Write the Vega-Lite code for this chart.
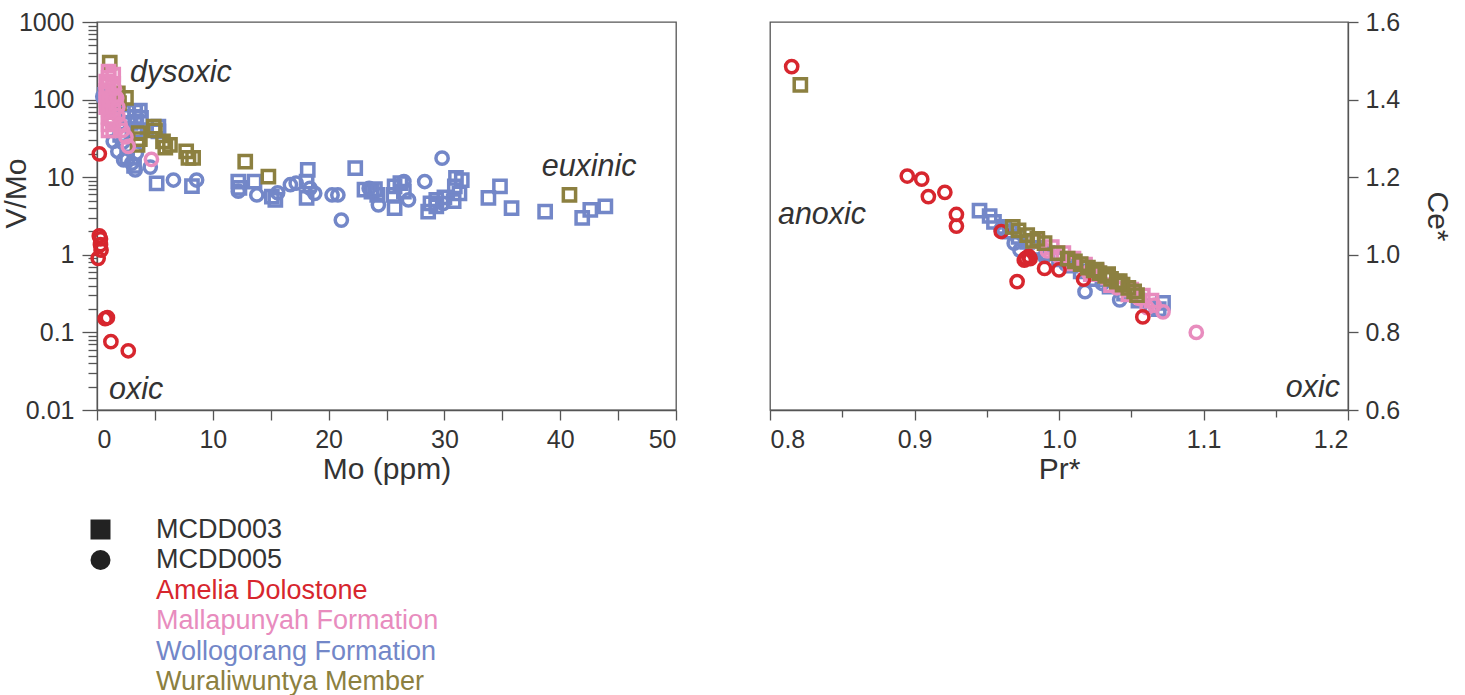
{
  "$schema": "https://vega.github.io/schema/vega-lite/v6.json",
  "autosize": {"type": "none"},
  "padding": {"left": 97, "top": 22, "right": 1368, "bottom": 673},
  "background": "white",
  "bounds": "flush",
  "spacing": 94,
  "config": {
    "font": "Liberation Sans",
    "view": {"stroke": "#555", "strokeWidth": 1.3},
    "axis": {
      "grid": false,
      "domainColor": "#555",
      "domainWidth": 1.3,
      "tickColor": "#555",
      "tickWidth": 1.3,
      "labelFont": "Liberation Sans",
      "labelFontSize": 25,
      "labelColor": "#333",
      "labelPadding": 7,
      "titleFont": "Liberation Sans",
      "titleFontSize": 30,
      "titleFontWeight": "normal",
      "titleColor": "#333"
    },
    "legend": {"labelFont": "Liberation Sans", "labelFontSize": 27, "labelColor": "#333", "labelLimit": 0}
  },
  "datasets": {
    "vmo": [
      {"mo": 0.7, "vmo": 115, "unit": "Wollogorang Formation", "core": "MCDD003"},
      {"mo": 1.0, "vmo": 95, "unit": "Wollogorang Formation", "core": "MCDD003"},
      {"mo": 1.3, "vmo": 81, "unit": "Wollogorang Formation", "core": "MCDD003"},
      {"mo": 2.7, "vmo": 70, "unit": "Wollogorang Formation", "core": "MCDD003"},
      {"mo": 3.3, "vmo": 70, "unit": "Wollogorang Formation", "core": "MCDD003"},
      {"mo": 3.7, "vmo": 72, "unit": "Wollogorang Formation", "core": "MCDD003"},
      {"mo": 2.7, "vmo": 60, "unit": "Wollogorang Formation", "core": "MCDD003"},
      {"mo": 3.3, "vmo": 60, "unit": "Wollogorang Formation", "core": "MCDD003"},
      {"mo": 3.8, "vmo": 58, "unit": "Wollogorang Formation", "core": "MCDD003"},
      {"mo": 2.9, "vmo": 50, "unit": "Wollogorang Formation", "core": "MCDD003"},
      {"mo": 3.4, "vmo": 52, "unit": "Wollogorang Formation", "core": "MCDD003"},
      {"mo": 3.3, "vmo": 40, "unit": "Wollogorang Formation", "core": "MCDD003"},
      {"mo": 5.3, "vmo": 45, "unit": "Wollogorang Formation", "core": "MCDD003"},
      {"mo": 5.3, "vmo": 39, "unit": "Wollogorang Formation", "core": "MCDD003"},
      {"mo": 2.0, "vmo": 35, "unit": "Wollogorang Formation", "core": "MCDD003"},
      {"mo": 2.6, "vmo": 18, "unit": "Wollogorang Formation", "core": "MCDD003"},
      {"mo": 3.2, "vmo": 14, "unit": "Wollogorang Formation", "core": "MCDD003"},
      {"mo": 5.15, "vmo": 8.3, "unit": "Wollogorang Formation", "core": "MCDD003"},
      {"mo": 8.2, "vmo": 7.7, "unit": "Wollogorang Formation", "core": "MCDD003"},
      {"mo": 12.2, "vmo": 8.8, "unit": "Wollogorang Formation", "core": "MCDD003"},
      {"mo": 12.3, "vmo": 7.3, "unit": "Wollogorang Formation", "core": "MCDD003"},
      {"mo": 13.6, "vmo": 8.8, "unit": "Wollogorang Formation", "core": "MCDD003"},
      {"mo": 15.1, "vmo": 5.6, "unit": "Wollogorang Formation", "core": "MCDD003"},
      {"mo": 15.4, "vmo": 5.1, "unit": "Wollogorang Formation", "core": "MCDD003"},
      {"mo": 18.2, "vmo": 12.4, "unit": "Wollogorang Formation", "core": "MCDD003"},
      {"mo": 18.1, "vmo": 8.8, "unit": "Wollogorang Formation", "core": "MCDD003"},
      {"mo": 18.1, "vmo": 5.4, "unit": "Wollogorang Formation", "core": "MCDD003"},
      {"mo": 22.3, "vmo": 13.1, "unit": "Wollogorang Formation", "core": "MCDD003"},
      {"mo": 23.1, "vmo": 6.9, "unit": "Wollogorang Formation", "core": "MCDD003"},
      {"mo": 23.7, "vmo": 6.5, "unit": "Wollogorang Formation", "core": "MCDD003"},
      {"mo": 24.2, "vmo": 5.9, "unit": "Wollogorang Formation", "core": "MCDD003"},
      {"mo": 24.0, "vmo": 7.0, "unit": "Wollogorang Formation", "core": "MCDD003"},
      {"mo": 25.7, "vmo": 7.6, "unit": "Wollogorang Formation", "core": "MCDD003"},
      {"mo": 26.2, "vmo": 8.4, "unit": "Wollogorang Formation", "core": "MCDD003"},
      {"mo": 25.6, "vmo": 5.9, "unit": "Wollogorang Formation", "core": "MCDD003"},
      {"mo": 25.7, "vmo": 4.0, "unit": "Wollogorang Formation", "core": "MCDD003"},
      {"mo": 26.5, "vmo": 6.5, "unit": "Wollogorang Formation", "core": "MCDD003"},
      {"mo": 28.8, "vmo": 4.6, "unit": "Wollogorang Formation", "core": "MCDD003"},
      {"mo": 29.3, "vmo": 5.1, "unit": "Wollogorang Formation", "core": "MCDD003"},
      {"mo": 28.6, "vmo": 3.6, "unit": "Wollogorang Formation", "core": "MCDD003"},
      {"mo": 29.3, "vmo": 4.2, "unit": "Wollogorang Formation", "core": "MCDD003"},
      {"mo": 30.0, "vmo": 5.5, "unit": "Wollogorang Formation", "core": "MCDD003"},
      {"mo": 31.5, "vmo": 9.2, "unit": "Wollogorang Formation", "core": "MCDD003"},
      {"mo": 31.0, "vmo": 9.8, "unit": "Wollogorang Formation", "core": "MCDD003"},
      {"mo": 31.3, "vmo": 6.2, "unit": "Wollogorang Formation", "core": "MCDD003"},
      {"mo": 30.9, "vmo": 7.6, "unit": "Wollogorang Formation", "core": "MCDD003"},
      {"mo": 30.8, "vmo": 4.9, "unit": "Wollogorang Formation", "core": "MCDD003"},
      {"mo": 34.8, "vmo": 7.6, "unit": "Wollogorang Formation", "core": "MCDD003"},
      {"mo": 33.8, "vmo": 5.4, "unit": "Wollogorang Formation", "core": "MCDD003"},
      {"mo": 35.8, "vmo": 4.0, "unit": "Wollogorang Formation", "core": "MCDD003"},
      {"mo": 38.7, "vmo": 3.6, "unit": "Wollogorang Formation", "core": "MCDD003"},
      {"mo": 41.9, "vmo": 3.0, "unit": "Wollogorang Formation", "core": "MCDD003"},
      {"mo": 42.6, "vmo": 3.8, "unit": "Wollogorang Formation", "core": "MCDD003"},
      {"mo": 43.9, "vmo": 4.2, "unit": "Wollogorang Formation", "core": "MCDD003"},
      {"mo": 0.5, "vmo": 110, "unit": "Wollogorang Formation", "core": "MCDD005"},
      {"mo": 1.0, "vmo": 75, "unit": "Wollogorang Formation", "core": "MCDD005"},
      {"mo": 1.4, "vmo": 29, "unit": "Wollogorang Formation", "core": "MCDD005"},
      {"mo": 1.8, "vmo": 21.5, "unit": "Wollogorang Formation", "core": "MCDD005"},
      {"mo": 2.2, "vmo": 28, "unit": "Wollogorang Formation", "core": "MCDD005"},
      {"mo": 2.3, "vmo": 16.7, "unit": "Wollogorang Formation", "core": "MCDD005"},
      {"mo": 3.0, "vmo": 15.2, "unit": "Wollogorang Formation", "core": "MCDD005"},
      {"mo": 3.3, "vmo": 12.4, "unit": "Wollogorang Formation", "core": "MCDD005"},
      {"mo": 3.4, "vmo": 20.4, "unit": "Wollogorang Formation", "core": "MCDD005"},
      {"mo": 4.6, "vmo": 13.5, "unit": "Wollogorang Formation", "core": "MCDD005"},
      {"mo": 6.6, "vmo": 9.2, "unit": "Wollogorang Formation", "core": "MCDD005"},
      {"mo": 8.6, "vmo": 9.2, "unit": "Wollogorang Formation", "core": "MCDD005"},
      {"mo": 12.2, "vmo": 6.6, "unit": "Wollogorang Formation", "core": "MCDD005"},
      {"mo": 13.8, "vmo": 5.9, "unit": "Wollogorang Formation", "core": "MCDD005"},
      {"mo": 15.6, "vmo": 6.3, "unit": "Wollogorang Formation", "core": "MCDD005"},
      {"mo": 16.7, "vmo": 8.0, "unit": "Wollogorang Formation", "core": "MCDD005"},
      {"mo": 17.2, "vmo": 8.4, "unit": "Wollogorang Formation", "core": "MCDD005"},
      {"mo": 18.4, "vmo": 7.2, "unit": "Wollogorang Formation", "core": "MCDD005"},
      {"mo": 18.8, "vmo": 6.2, "unit": "Wollogorang Formation", "core": "MCDD005"},
      {"mo": 20.3, "vmo": 5.9, "unit": "Wollogorang Formation", "core": "MCDD005"},
      {"mo": 20.8, "vmo": 5.9, "unit": "Wollogorang Formation", "core": "MCDD005"},
      {"mo": 21.1, "vmo": 2.8, "unit": "Wollogorang Formation", "core": "MCDD005"},
      {"mo": 23.5, "vmo": 7.2, "unit": "Wollogorang Formation", "core": "MCDD005"},
      {"mo": 24.3, "vmo": 4.4, "unit": "Wollogorang Formation", "core": "MCDD005"},
      {"mo": 26.5, "vmo": 8.8, "unit": "Wollogorang Formation", "core": "MCDD005"},
      {"mo": 26.9, "vmo": 5.1, "unit": "Wollogorang Formation", "core": "MCDD005"},
      {"mo": 28.3, "vmo": 8.8, "unit": "Wollogorang Formation", "core": "MCDD005"},
      {"mo": 29.8, "vmo": 17.6, "unit": "Wollogorang Formation", "core": "MCDD005"},
      {"mo": 29.9, "vmo": 4.6, "unit": "Wollogorang Formation", "core": "MCDD005"},
      {"mo": 1.1, "vmo": 300, "unit": "Wuraliwuntya Member", "core": "MCDD003"},
      {"mo": 1.8, "vmo": 120, "unit": "Wuraliwuntya Member", "core": "MCDD003"},
      {"mo": 2.5, "vmo": 105, "unit": "Wuraliwuntya Member", "core": "MCDD003"},
      {"mo": 1.9, "vmo": 90, "unit": "Wuraliwuntya Member", "core": "MCDD003"},
      {"mo": 3.6, "vmo": 37, "unit": "Wuraliwuntya Member", "core": "MCDD003"},
      {"mo": 3.7, "vmo": 31, "unit": "Wuraliwuntya Member", "core": "MCDD003"},
      {"mo": 3.5, "vmo": 26, "unit": "Wuraliwuntya Member", "core": "MCDD003"},
      {"mo": 4.9, "vmo": 45, "unit": "Wuraliwuntya Member", "core": "MCDD003"},
      {"mo": 5.0, "vmo": 40, "unit": "Wuraliwuntya Member", "core": "MCDD003"},
      {"mo": 5.7, "vmo": 29, "unit": "Wuraliwuntya Member", "core": "MCDD003"},
      {"mo": 5.9, "vmo": 24, "unit": "Wuraliwuntya Member", "core": "MCDD003"},
      {"mo": 6.3, "vmo": 26, "unit": "Wuraliwuntya Member", "core": "MCDD003"},
      {"mo": 7.7, "vmo": 21.5, "unit": "Wuraliwuntya Member", "core": "MCDD003"},
      {"mo": 7.9, "vmo": 17.8, "unit": "Wuraliwuntya Member", "core": "MCDD003"},
      {"mo": 8.3, "vmo": 17.8, "unit": "Wuraliwuntya Member", "core": "MCDD003"},
      {"mo": 12.8, "vmo": 15.9, "unit": "Wuraliwuntya Member", "core": "MCDD003"},
      {"mo": 14.8, "vmo": 10.2, "unit": "Wuraliwuntya Member", "core": "MCDD003"},
      {"mo": 40.8, "vmo": 5.9, "unit": "Wuraliwuntya Member", "core": "MCDD003"},
      {"mo": 1.0, "vmo": 230, "unit": "Mallapunyah Formation", "core": "MCDD003"},
      {"mo": 1.0, "vmo": 190, "unit": "Mallapunyah Formation", "core": "MCDD003"},
      {"mo": 1.0, "vmo": 150, "unit": "Mallapunyah Formation", "core": "MCDD003"},
      {"mo": 1.0, "vmo": 120, "unit": "Mallapunyah Formation", "core": "MCDD003"},
      {"mo": 1.0, "vmo": 95, "unit": "Mallapunyah Formation", "core": "MCDD003"},
      {"mo": 1.0, "vmo": 75, "unit": "Mallapunyah Formation", "core": "MCDD003"},
      {"mo": 1.0, "vmo": 60, "unit": "Mallapunyah Formation", "core": "MCDD003"},
      {"mo": 1.0, "vmo": 48, "unit": "Mallapunyah Formation", "core": "MCDD003"},
      {"mo": 1.0, "vmo": 40, "unit": "Mallapunyah Formation", "core": "MCDD003"},
      {"mo": 1.4, "vmo": 210, "unit": "Mallapunyah Formation", "core": "MCDD003"},
      {"mo": 1.4, "vmo": 160, "unit": "Mallapunyah Formation", "core": "MCDD003"},
      {"mo": 1.4, "vmo": 110, "unit": "Mallapunyah Formation", "core": "MCDD003"},
      {"mo": 1.4, "vmo": 70, "unit": "Mallapunyah Formation", "core": "MCDD003"},
      {"mo": 1.4, "vmo": 50, "unit": "Mallapunyah Formation", "core": "MCDD003"},
      {"mo": 1.4, "vmo": 40, "unit": "Mallapunyah Formation", "core": "MCDD003"},
      {"mo": 0.8, "vmo": 170, "unit": "Mallapunyah Formation", "core": "MCDD003"},
      {"mo": 0.8, "vmo": 130, "unit": "Mallapunyah Formation", "core": "MCDD003"},
      {"mo": 0.8, "vmo": 100, "unit": "Mallapunyah Formation", "core": "MCDD003"},
      {"mo": 0.8, "vmo": 80, "unit": "Mallapunyah Formation", "core": "MCDD003"},
      {"mo": 1.7, "vmo": 105, "unit": "Mallapunyah Formation", "core": "MCDD005"},
      {"mo": 1.8, "vmo": 80, "unit": "Mallapunyah Formation", "core": "MCDD005"},
      {"mo": 1.8, "vmo": 62, "unit": "Mallapunyah Formation", "core": "MCDD005"},
      {"mo": 1.2, "vmo": 52, "unit": "Mallapunyah Formation", "core": "MCDD005"},
      {"mo": 2.0, "vmo": 48, "unit": "Mallapunyah Formation", "core": "MCDD005"},
      {"mo": 2.2, "vmo": 40, "unit": "Mallapunyah Formation", "core": "MCDD005"},
      {"mo": 2.5, "vmo": 33, "unit": "Mallapunyah Formation", "core": "MCDD005"},
      {"mo": 2.7, "vmo": 25, "unit": "Mallapunyah Formation", "core": "MCDD005"},
      {"mo": 1.5, "vmo": 140, "unit": "Mallapunyah Formation", "core": "MCDD005"},
      {"mo": 4.7, "vmo": 17, "unit": "Mallapunyah Formation", "core": "MCDD005"},
      {"mo": 0.2, "vmo": 20, "unit": "Amelia Dolostone", "core": "MCDD005"},
      {"mo": 0.2, "vmo": 1.75, "unit": "Amelia Dolostone", "core": "MCDD005"},
      {"mo": 0.3, "vmo": 1.6, "unit": "Amelia Dolostone", "core": "MCDD005"},
      {"mo": 0.3, "vmo": 1.35, "unit": "Amelia Dolostone", "core": "MCDD005"},
      {"mo": 0.35, "vmo": 1.15, "unit": "Amelia Dolostone", "core": "MCDD005"},
      {"mo": 0.1, "vmo": 0.9, "unit": "Amelia Dolostone", "core": "MCDD005"},
      {"mo": 0.7, "vmo": 0.15, "unit": "Amelia Dolostone", "core": "MCDD005"},
      {"mo": 0.9, "vmo": 0.155, "unit": "Amelia Dolostone", "core": "MCDD005"},
      {"mo": 1.2, "vmo": 0.076, "unit": "Amelia Dolostone", "core": "MCDD005"},
      {"mo": 2.7, "vmo": 0.058, "unit": "Amelia Dolostone", "core": "MCDD005"}
    ],
    "ce": [
      {"pr": 0.945, "ce": 1.114, "unit": "Wollogorang Formation", "core": "MCDD003"},
      {"pr": 0.952, "ce": 1.100, "unit": "Wollogorang Formation", "core": "MCDD003"},
      {"pr": 0.955, "ce": 1.085, "unit": "Wollogorang Formation", "core": "MCDD003"},
      {"pr": 0.962, "ce": 1.072, "unit": "Wollogorang Formation", "core": "MCDD003"},
      {"pr": 0.966, "ce": 1.060, "unit": "Wollogorang Formation", "core": "MCDD003"},
      {"pr": 0.972, "ce": 1.046, "unit": "Wollogorang Formation", "core": "MCDD003"},
      {"pr": 0.978, "ce": 1.033, "unit": "Wollogorang Formation", "core": "MCDD003"},
      {"pr": 0.985, "ce": 1.018, "unit": "Wollogorang Formation", "core": "MCDD003"},
      {"pr": 0.992, "ce": 1.004, "unit": "Wollogorang Formation", "core": "MCDD003"},
      {"pr": 1.000, "ce": 0.988, "unit": "Wollogorang Formation", "core": "MCDD003"},
      {"pr": 1.008, "ce": 0.972, "unit": "Wollogorang Formation", "core": "MCDD003"},
      {"pr": 1.015, "ce": 0.957, "unit": "Wollogorang Formation", "core": "MCDD003"},
      {"pr": 1.025, "ce": 0.937, "unit": "Wollogorang Formation", "core": "MCDD003"},
      {"pr": 1.035, "ce": 0.918, "unit": "Wollogorang Formation", "core": "MCDD003"},
      {"pr": 1.045, "ce": 0.900, "unit": "Wollogorang Formation", "core": "MCDD003"},
      {"pr": 1.055, "ce": 0.882, "unit": "Wollogorang Formation", "core": "MCDD003"},
      {"pr": 1.064, "ce": 0.868, "unit": "Wollogorang Formation", "core": "MCDD003"},
      {"pr": 1.072, "ce": 0.876, "unit": "Wollogorang Formation", "core": "MCDD003"},
      {"pr": 1.069, "ce": 0.860, "unit": "Wollogorang Formation", "core": "MCDD003"},
      {"pr": 0.969, "ce": 1.030, "unit": "Wollogorang Formation", "core": "MCDD005"},
      {"pr": 0.973, "ce": 1.012, "unit": "Wollogorang Formation", "core": "MCDD005"},
      {"pr": 0.960, "ce": 1.066, "unit": "Wollogorang Formation", "core": "MCDD005"},
      {"pr": 0.990, "ce": 0.996, "unit": "Wollogorang Formation", "core": "MCDD005"},
      {"pr": 1.005, "ce": 0.975, "unit": "Wollogorang Formation", "core": "MCDD005"},
      {"pr": 1.018, "ce": 0.905, "unit": "Wollogorang Formation", "core": "MCDD005"},
      {"pr": 1.030, "ce": 0.926, "unit": "Wollogorang Formation", "core": "MCDD005"},
      {"pr": 1.042, "ce": 0.884, "unit": "Wollogorang Formation", "core": "MCDD005"},
      {"pr": 0.985, "ce": 1.035, "unit": "Mallapunyah Formation", "core": "MCDD003"},
      {"pr": 0.995, "ce": 1.020, "unit": "Mallapunyah Formation", "core": "MCDD003"},
      {"pr": 1.003, "ce": 1.004, "unit": "Mallapunyah Formation", "core": "MCDD003"},
      {"pr": 1.010, "ce": 0.990, "unit": "Mallapunyah Formation", "core": "MCDD003"},
      {"pr": 1.018, "ce": 0.975, "unit": "Mallapunyah Formation", "core": "MCDD003"},
      {"pr": 1.026, "ce": 0.958, "unit": "Mallapunyah Formation", "core": "MCDD003"},
      {"pr": 1.034, "ce": 0.942, "unit": "Mallapunyah Formation", "core": "MCDD003"},
      {"pr": 1.042, "ce": 0.926, "unit": "Mallapunyah Formation", "core": "MCDD003"},
      {"pr": 1.050, "ce": 0.910, "unit": "Mallapunyah Formation", "core": "MCDD003"},
      {"pr": 1.058, "ce": 0.895, "unit": "Mallapunyah Formation", "core": "MCDD003"},
      {"pr": 1.064, "ce": 0.882, "unit": "Mallapunyah Formation", "core": "MCDD003"},
      {"pr": 1.008, "ce": 0.978, "unit": "Mallapunyah Formation", "core": "MCDD003"},
      {"pr": 1.022, "ce": 0.950, "unit": "Mallapunyah Formation", "core": "MCDD003"},
      {"pr": 1.036, "ce": 0.922, "unit": "Mallapunyah Formation", "core": "MCDD003"},
      {"pr": 1.048, "ce": 0.898, "unit": "Mallapunyah Formation", "core": "MCDD003"},
      {"pr": 0.992, "ce": 1.010, "unit": "Mallapunyah Formation", "core": "MCDD005"},
      {"pr": 1.000, "ce": 0.995, "unit": "Mallapunyah Formation", "core": "MCDD005"},
      {"pr": 1.020, "ce": 0.955, "unit": "Mallapunyah Formation", "core": "MCDD005"},
      {"pr": 1.040, "ce": 0.915, "unit": "Mallapunyah Formation", "core": "MCDD005"},
      {"pr": 1.055, "ce": 0.888, "unit": "Mallapunyah Formation", "core": "MCDD005"},
      {"pr": 1.061, "ce": 0.864, "unit": "Mallapunyah Formation", "core": "MCDD005"},
      {"pr": 1.066, "ce": 0.870, "unit": "Mallapunyah Formation", "core": "MCDD005"},
      {"pr": 1.072, "ce": 0.853, "unit": "Mallapunyah Formation", "core": "MCDD005"},
      {"pr": 1.095, "ce": 0.800, "unit": "Mallapunyah Formation", "core": "MCDD005"},
      {"pr": 0.815, "ce": 1.485, "unit": "Amelia Dolostone", "core": "MCDD005"},
      {"pr": 0.895, "ce": 1.203, "unit": "Amelia Dolostone", "core": "MCDD005"},
      {"pr": 0.905, "ce": 1.195, "unit": "Amelia Dolostone", "core": "MCDD005"},
      {"pr": 0.9096, "ce": 1.150, "unit": "Amelia Dolostone", "core": "MCDD005"},
      {"pr": 0.921, "ce": 1.161, "unit": "Amelia Dolostone", "core": "MCDD005"},
      {"pr": 0.929, "ce": 1.104, "unit": "Amelia Dolostone", "core": "MCDD005"},
      {"pr": 0.929, "ce": 1.074, "unit": "Amelia Dolostone", "core": "MCDD005"},
      {"pr": 0.960, "ce": 1.060, "unit": "Amelia Dolostone", "core": "MCDD005"},
      {"pr": 0.977, "ce": 0.991, "unit": "Amelia Dolostone", "core": "MCDD005"},
      {"pr": 0.979, "ce": 0.996, "unit": "Amelia Dolostone", "core": "MCDD005"},
      {"pr": 0.976, "ce": 0.986, "unit": "Amelia Dolostone", "core": "MCDD005"},
      {"pr": 0.980, "ce": 0.990, "unit": "Amelia Dolostone", "core": "MCDD005"},
      {"pr": 0.990, "ce": 0.965, "unit": "Amelia Dolostone", "core": "MCDD005"},
      {"pr": 1.000, "ce": 0.961, "unit": "Amelia Dolostone", "core": "MCDD005"},
      {"pr": 0.971, "ce": 0.931, "unit": "Amelia Dolostone", "core": "MCDD005"},
      {"pr": 1.017, "ce": 0.937, "unit": "Amelia Dolostone", "core": "MCDD005"},
      {"pr": 1.058, "ce": 0.840, "unit": "Amelia Dolostone", "core": "MCDD005"},
      {"pr": 0.821, "ce": 1.438, "unit": "Wuraliwuntya Member", "core": "MCDD003"},
      {"pr": 0.968, "ce": 1.072, "unit": "Wuraliwuntya Member", "core": "MCDD003"},
      {"pr": 0.972, "ce": 1.063, "unit": "Wuraliwuntya Member", "core": "MCDD003"},
      {"pr": 0.978, "ce": 1.051, "unit": "Wuraliwuntya Member", "core": "MCDD003"},
      {"pr": 0.982, "ce": 1.036, "unit": "Wuraliwuntya Member", "core": "MCDD003"},
      {"pr": 0.985, "ce": 1.041, "unit": "Wuraliwuntya Member", "core": "MCDD003"},
      {"pr": 0.990, "ce": 1.030, "unit": "Wuraliwuntya Member", "core": "MCDD003"},
      {"pr": 0.999, "ce": 1.004, "unit": "Wuraliwuntya Member", "core": "MCDD003"},
      {"pr": 1.006, "ce": 0.990, "unit": "Wuraliwuntya Member", "core": "MCDD003"},
      {"pr": 1.011, "ce": 0.983, "unit": "Wuraliwuntya Member", "core": "MCDD003"},
      {"pr": 1.015, "ce": 0.976, "unit": "Wuraliwuntya Member", "core": "MCDD003"},
      {"pr": 1.020, "ce": 0.967, "unit": "Wuraliwuntya Member", "core": "MCDD003"},
      {"pr": 1.024, "ce": 0.960, "unit": "Wuraliwuntya Member", "core": "MCDD003"},
      {"pr": 1.026, "ce": 0.962, "unit": "Wuraliwuntya Member", "core": "MCDD003"},
      {"pr": 1.028, "ce": 0.953, "unit": "Wuraliwuntya Member", "core": "MCDD003"},
      {"pr": 1.032, "ce": 0.946, "unit": "Wuraliwuntya Member", "core": "MCDD003"},
      {"pr": 1.034, "ce": 0.950, "unit": "Wuraliwuntya Member", "core": "MCDD003"},
      {"pr": 1.036, "ce": 0.938, "unit": "Wuraliwuntya Member", "core": "MCDD003"},
      {"pr": 1.040, "ce": 0.931, "unit": "Wuraliwuntya Member", "core": "MCDD003"},
      {"pr": 1.042, "ce": 0.932, "unit": "Wuraliwuntya Member", "core": "MCDD003"},
      {"pr": 1.044, "ce": 0.923, "unit": "Wuraliwuntya Member", "core": "MCDD003"},
      {"pr": 1.048, "ce": 0.915, "unit": "Wuraliwuntya Member", "core": "MCDD003"},
      {"pr": 1.052, "ce": 0.906, "unit": "Wuraliwuntya Member", "core": "MCDD003"},
      {"pr": 1.054, "ce": 0.896, "unit": "Wuraliwuntya Member", "core": "MCDD003"}
    ]
  },
  "hconcat": [
    {
      "width": 579,
      "height": 388,
      "layer": [
        {
          "data": {"name": "vmo"},
          "mark": {"type": "point", "filled": false, "strokeWidth": 3.5, "size": 150, "opacity": 1},
          "encoding": {
            "x": {
              "field": "mo", "type": "quantitative", "title": "Mo (ppm)",
              "scale": {"domain": [0, 50], "nice": false, "zero": false},
              "axis": {
                "values": [0, 5, 10, 15, 20, 25, 30, 35, 40, 45, 50],
                "labelExpr": "datum.value % 10 === 0 ? datum.label : ''",
                "tickSize": 10,
                "titlePadding": 2
              }
            },
            "y": {
              "field": "vmo", "type": "quantitative", "title": "V/Mo",
              "scale": {"type": "log", "domain": [0.01, 1000], "nice": false},
              "axis": {
                "values": [0.01, 0.02, 0.03, 0.04, 0.05, 0.06, 0.07, 0.08, 0.09, 0.1, 0.2, 0.3, 0.4, 0.5, 0.6, 0.7, 0.8, 0.9, 1, 2, 3, 4, 5, 6, 7, 8, 9, 10, 20, 30, 40, 50, 60, 70, 80, 90, 100, 200, 300, 400, 500, 600, 700, 800, 900, 1000],
                "format": "~g",
                "labelExpr": "indexof([0.01, 0.1, 1, 10, 100, 1000], datum.value) >= 0 ? datum.label : ''",
                "tickSize": {"condition": {"test": "indexof([0.01, 0.1, 1, 10, 100, 1000], datum.value) >= 0", "value": 15}, "value": 9},
                "labelPadding": 8,
                "titleX": -66,
                "titleY": 171
              }
            },
            "color": {
              "field": "unit", "type": "nominal",
              "scale": {
                "domain": ["Amelia Dolostone", "Mallapunyah Formation", "Wollogorang Formation", "Wuraliwuntya Member"],
                "range": ["#d7262e", "#e88cbe", "#7387c8", "#8c8040"]
              },
              "legend": {
                "orient": "none", "legendX": -10, "legendY": 555, "title": null,
                "symbolSize": 400, "labelOffset": 42, "rowPadding": 2.5, "labelLimit": 0,
                "encoding": {
                  "symbols": {"opacity": {"value": 0}},
                  "labels": {"fill": {"condition": [
                    {"test": "datum.value === 'Amelia Dolostone'", "value": "#d7262e"},
                    {"test": "datum.value === 'Mallapunyah Formation'", "value": "#e88cbe"},
                    {"test": "datum.value === 'Wollogorang Formation'", "value": "#7387c8"}
                  ], "value": "#8c8040"}}
                }
              }
            },
            "shape": {
              "field": "core", "type": "nominal",
              "scale": {"domain": ["MCDD003", "MCDD005"], "range": ["square", "circle"]},
              "legend": {
                "orient": "none", "legendX": -10, "legendY": 494, "title": null,
                "symbolSize": 400, "labelOffset": 42, "rowPadding": 2.5, "labelLimit": 0,
                "encoding": {
                  "symbols": {"fill": {"value": "#222"}, "stroke": {"value": "#222"}, "strokeWidth": {"value": 0}, "opacity": {"value": 1}}
                }
              }
            }
          }
        },
        {
          "data": {"values": [{}]},
          "mark": {"type": "text", "align": "left", "baseline": "middle", "fontSize": 30.5, "fontStyle": "italic", "fill": "#333"},
          "encoding": {"x": {"datum": 2.85}, "y": {"datum": 221}, "text": {"value": "dysoxic"}}
        },
        {
          "data": {"values": [{}]},
          "mark": {"type": "text", "align": "left", "baseline": "middle", "fontSize": 30.5, "fontStyle": "italic", "fill": "#333"},
          "encoding": {"x": {"datum": 1.04}, "y": {"datum": 0.0182}, "text": {"value": "oxic"}}
        },
        {
          "data": {"values": [{}]},
          "mark": {"type": "text", "align": "left", "baseline": "middle", "fontSize": 30.5, "fontStyle": "italic", "fill": "#333"},
          "encoding": {"x": {"datum": 38.4}, "y": {"datum": 13.7}, "text": {"value": "euxinic"}}
        }
      ]
    },
    {
      "width": 578,
      "height": 388,
      "layer": [
        {
          "mark": {"type": "rule", "color": "#666", "strokeWidth": 1.2},
          "encoding": {"x": {"datum": 0.925}}
        },
        {
          "mark": {"type": "rule", "color": "#444", "strokeWidth": 1.2},
          "encoding": {"x": {"datum": 0.975}}
        },
        {
          "mark": {"type": "rule", "color": "#999", "strokeWidth": 1.2},
          "encoding": {"y": {"datum": 1.05}}
        },
        {
          "mark": {"type": "rule", "color": "#444", "strokeWidth": 1.2},
          "encoding": {"y": {"datum": 0.95}}
        },
        {
          "data": {"name": "ce"},
          "mark": {"type": "point", "filled": false, "strokeWidth": 3.5, "size": 150, "opacity": 1},
          "encoding": {
            "x": {
              "field": "pr", "type": "quantitative", "title": "Pr*",
              "scale": {"domain": [0.8, 1.2], "nice": false, "zero": false},
              "axis": {
                "values": [0.8, 0.85, 0.9, 0.95, 1.0, 1.05, 1.1, 1.15, 1.2],
                "labelExpr": "abs(datum.value * 10 - round(datum.value * 10)) < 1e-6 ? format(datum.value, '.1f') : ''",
                "tickSize": {"condition": {"test": "abs(datum.value * 10 - round(datum.value * 10)) < 1e-6", "value": 10}, "value": 7},
                "titlePadding": 2
              }
            },
            "y": {
              "field": "ce", "type": "quantitative", "title": "Ce*",
              "scale": {"domain": [0.6, 1.6], "nice": false, "zero": false},
              "axis": {
                "orient": "right",
                "values": [0.6, 0.7, 0.8, 0.9, 1.0, 1.1, 1.2, 1.3, 1.4, 1.5, 1.6],
                "labelExpr": "abs(datum.value * 5 - round(datum.value * 5)) < 1e-6 ? format(datum.value, '.1f') : ''",
                "tickSize": {"condition": {"test": "abs(datum.value * 5 - round(datum.value * 5)) < 1e-6", "value": 10}, "value": 7},
                "titleAngle": 90,
                "titlePadding": 22
              }
            },
            "color": {
              "field": "unit", "type": "nominal", "legend": null,
              "scale": {
                "domain": ["Amelia Dolostone", "Mallapunyah Formation", "Wollogorang Formation", "Wuraliwuntya Member"],
                "range": ["#d7262e", "#e88cbe", "#7387c8", "#8c8040"]
              }
            },
            "shape": {
              "field": "core", "type": "nominal", "legend": null,
              "scale": {"domain": ["MCDD003", "MCDD005"], "range": ["square", "circle"]}
            }
          }
        },
        {
          "data": {"values": [{}]},
          "mark": {"type": "text", "align": "left", "baseline": "middle", "fontSize": 30.5, "fontStyle": "italic", "fill": "#333"},
          "encoding": {"x": {"datum": 0.8055}, "y": {"datum": 1.1026}, "text": {"value": "anoxic"}}
        },
        {
          "data": {"values": [{}]},
          "mark": {"type": "text", "align": "right", "baseline": "middle", "fontSize": 30.5, "fontStyle": "italic", "fill": "#333"},
          "encoding": {"x": {"datum": 1.1945}, "y": {"datum": 0.657}, "text": {"value": "oxic"}}
        }
      ]
    }
  ],
  "resolve": {
    "scale": {"color": "independent", "shape": "independent"},
    "legend": {"color": "independent", "shape": "independent"}
  }
}
